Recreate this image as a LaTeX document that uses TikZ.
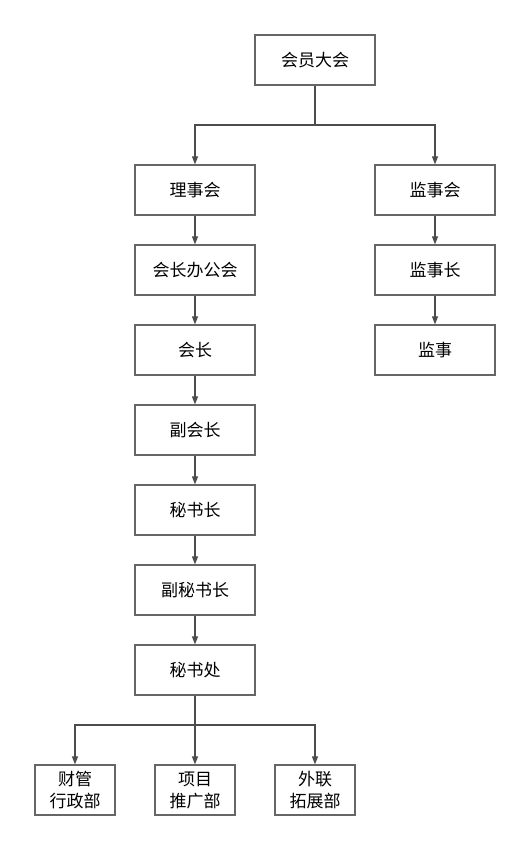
\documentclass[tikz,border=0pt]{standalone}
\usepackage{fontspec}
\setmainfont{Noto Sans CJK SC}
\usetikzlibrary{arrows.meta}
\begin{document}
\begin{tikzpicture}[x=1pt,y=-1pt,
  box/.style={draw=black!60,line width=1.3pt,fill=white,minimum width=120pt,minimum height=50pt,inner sep=0pt,font=\fontsize{17}{22}\selectfont,align=center},
  sbox/.style={box,minimum width=80pt},
  conn/.style={draw=black!70,line width=1.1pt},
  arr/.style={conn,-{Triangle[length=8pt,width=6pt]}}]
\useasboundingbox (0,0) rectangle (531,851);
\node[box] (hy) at (315,60) {会员大会};
\node[box] (lsh) at (195,190) {理事会};
\node[box] (hzb) at (195,270) {会长办公会};
\node[box] (hz) at (195,350) {会长};
\node[box] (fhz) at (195,430) {副会长};
\node[box] (msz) at (195,510) {秘书长};
\node[box] (fmsz) at (195,590) {副秘书长};
\node[box] (msc) at (195,670) {秘书处};
\node[box] (jsh) at (435,190) {监事会};
\node[box] (jsz) at (435,270) {监事长};
\node[box] (js) at (435,350) {监事};
\node[sbox] (cg) at (75,790) {财管\\行政部};
\node[sbox] (xm) at (195,790) {项目\\推广部};
\node[sbox] (wl) at (315,790) {外联\\拓展部};
\coordinate (j1) at (315,125);
\coordinate (j2) at (195,725);
\draw[conn] (hy.south) -- (j1);
\draw[arr] (j1) -| (lsh.north);
\draw[arr] (j1) -| (jsh.north);
\draw[arr] (lsh) -- (hzb);
\draw[arr] (hzb) -- (hz);
\draw[arr] (hz) -- (fhz);
\draw[arr] (fhz) -- (msz);
\draw[arr] (msz) -- (fmsz);
\draw[arr] (fmsz) -- (msc);
\draw[arr] (jsh) -- (jsz);
\draw[arr] (jsz) -- (js);
\draw[conn] (msc.south) -- (j2);
\draw[arr] (j2) -| (cg.north);
\draw[arr] (j2) -- (xm.north);
\draw[arr] (j2) -| (wl.north);
\end{tikzpicture}
\end{document}
